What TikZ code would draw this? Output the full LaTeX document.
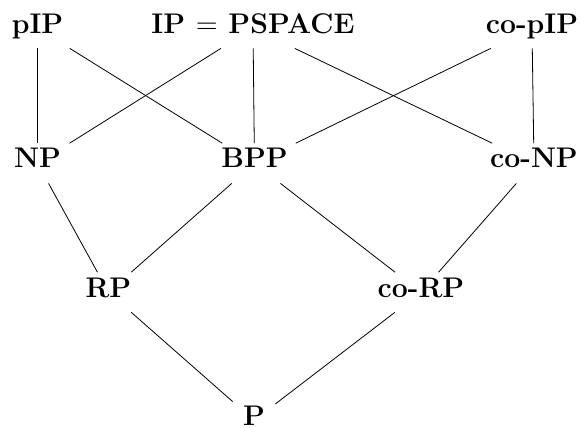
\documentclass[tikz,border=0pt]{standalone}
\usepackage{amsmath}
\usepackage{fontspec}
\setmainfont{Latin Modern Roman}

\begin{document}
\begin{tikzpicture}[x=0.5pt,y=-0.5pt,
        cls/.style={font=\fontsize{14.2}{17}\selectfont\bfseries,inner sep=5pt,
            text height=0.72em,text depth=0.25em,anchor=base}]
                \useasboundingbox (0,0) rectangle (580,428);
                % top row
                \node[cls] (pip) at (37.5,33){pIP};
                \node[cls] (ip) at (253,33){IP $=$ PSPACE};
                \node[cls] (copip) at (532,33){co-pIP};
                % middle row
                \node[cls] (np) at (37.5,168){NP};
                \node[cls] (bpp) at (254.5,168){BPP};
                \node[cls] (conp) at (534,168){co-NP};
                % lower rows
                \node[cls] (rp) at (108.5,297){RP};
                \node[cls] (corp) at (421,297){co-RP};
                \node[cls] (p) at (254,425){P};
                \draw (pip)--(np);
                \draw (pip)--(bpp);
                \draw (ip)--(np);
                \draw (ip)--(bpp);
                \draw (ip)--(conp);
                \draw (copip)--(bpp);
                \draw (copip)--(conp);
                \draw (np)--(rp);
                \draw (bpp)--(rp);
                \draw (bpp)--(corp);
                \draw (conp)--(corp);
                \draw (rp)--(p);
                \draw (corp)--(p);
            \end{tikzpicture}
\end{document}
